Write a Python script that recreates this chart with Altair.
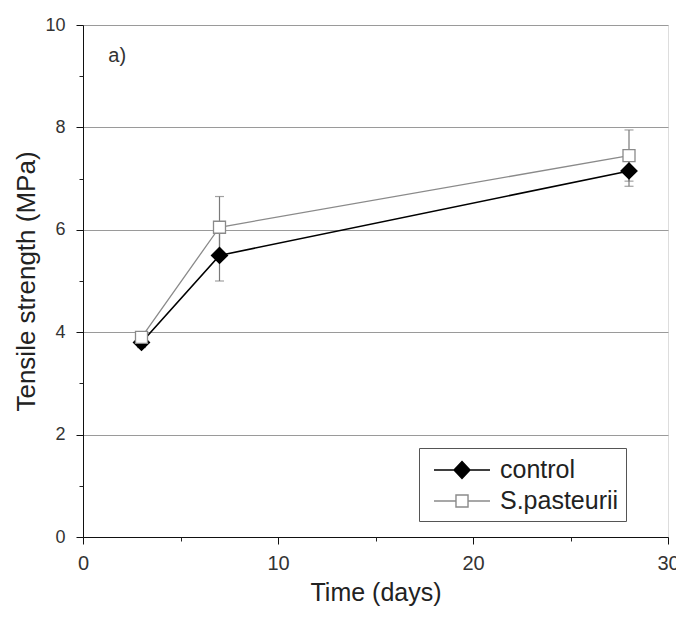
import altair as alt
import pandas as pd

days = [3, 7, 28]
series_names = ["control", "S.pasteurii"]
control = [3.8, 5.5, 7.15]
control_err = [0.1, 0.5, 0.3]
spast = [3.9, 6.05, 7.45]
spast_err = [0.1, 0.6, 0.5]

x_major = [0, 10, 20, 30]
x_minor = [5, 15, 25]
y_major = [0, 2, 4, 6, 8, 10]
y_minor = [1, 3, 5, 7, 9]

rows = []
for name, vals, errs in [("control", control, control_err), ("S.pasteurii", spast, spast_err)]:
    for d, v, e in zip(days, vals, errs):
        rows.append({"series": name, "day": d, "value": v, "lo": v - e, "hi": v + e})
df = pd.DataFrame(rows)

FONT = "Liberation Sans"
xs = alt.Scale(domain=[0, 30], nice=False, zero=False)
ys = alt.Scale(domain=[0, 10], nice=False)

x_axis = alt.Axis(values=x_major, grid=False, title="Time (days)", orient="bottom",
                  labelFontSize=20, titleFontSize=25, titleFontWeight="normal",
                  labelFont=FONT, titleFont=FONT,
                  domainColor="#111", tickColor="#111", labelColor="#333", titleColor="#222",
                  tickSize=7, labelPadding=9, titlePadding=7, labelFlush=False)
y_axis = alt.Axis(values=y_major, grid=True, gridColor="#9a9a9a", gridWidth=1.2, orient="left",
                  title="Tensile strength (MPa)", labelFontSize=18, titleFontSize=26,
                  titleFontWeight="normal", labelFont=FONT, titleFont=FONT,
                  domainColor="#111", tickColor="#111", labelColor="#333", titleColor="#222",
                  tickSize=7, labelPadding=11, titlePadding=5, labelFlush=False)
x_minor_axis = alt.Axis(values=x_minor, orient="bottom", grid=False, labels=False, domain=False,
                        title=None, tickSize=4, tickColor="#222")
y_minor_axis = alt.Axis(values=y_minor, orient="left", grid=False, labels=False, domain=False,
                        title=None, tickSize=4, tickColor="#222")

color_dom = series_names

lines = alt.Chart(df).mark_line().encode(
    x=alt.X("day:Q", scale=xs, axis=x_axis),
    y=alt.Y("value:Q", scale=ys, axis=y_axis),
    stroke=alt.Stroke("series:N", scale=alt.Scale(domain=color_dom, range=["#000000", "#8a8a8a"]), legend=None),
    strokeWidth=alt.StrokeWidth("series:N", scale=alt.Scale(domain=color_dom, range=[1.6, 1.3]), legend=None),
    detail="series:N",
)

err = alt.Chart(df).mark_rule(color="#7a7a7a", strokeWidth=1.2).encode(
    x=alt.X("day:Q", axis=None), y=alt.Y("lo:Q", axis=None), y2="hi:Q")
cap_hi = alt.Chart(df).mark_tick(color="#7a7a7a", orient="horizontal", size=9, thickness=1.2).encode(
    x=alt.X("day:Q", axis=None), y=alt.Y("hi:Q", axis=None))
cap_lo = alt.Chart(df).mark_tick(color="#7a7a7a", orient="horizontal", size=9, thickness=1.2).encode(
    x=alt.X("day:Q", axis=x_minor_axis), y=alt.Y("lo:Q", axis=y_minor_axis))

points = alt.Chart(df).mark_point(filled=False, opacity=1, strokeWidth=1.3).encode(
    x=alt.X("day:Q", axis=None), y=alt.Y("value:Q", axis=None),
    shape=alt.Shape("series:N", scale=alt.Scale(domain=color_dom, range=["diamond", "square"]), legend=None),
    fill=alt.Fill("series:N", scale=alt.Scale(domain=color_dom, range=["#000000", "#ffffff"]), legend=None),
    stroke=alt.Stroke("series:N", scale=alt.Scale(domain=color_dom, range=["#000000", "#8a8a8a"]), legend=None),
    size=alt.Size("series:N", scale=alt.Scale(domain=color_dom, range=[256, 144]), legend=None),
)

# legend symbol: line with marker, drawn wider than its nominal box
diamond_path = "M-2,0H-0.57M0.57,0H2M0,-0.6L0.57,0L0,0.6L-0.57,0Z"
square_path = "M-2,0H-0.43M0.43,0H2M-0.43,-0.43H0.43V0.43H-0.43Z"

legend = alt.Legend(
    orient="none", legendX=336, legendY=423, title=None,
    strokeColor="#555", fillColor="white", padding=7, rowPadding=3,
    labelFont=FONT, labelFontSize=25, labelColor="#222", labelOffset=23,
    symbolSize=784, symbolStrokeWidth=1.4, symbolOpacity=1, symbolOffset=21,
)

legend_layer = alt.Chart(df).mark_point(filled=False, opacity=1, strokeWidth=1.4).encode(
    x=alt.X("day:Q", axis=None), y=alt.Y("value:Q", axis=None),
    shape=alt.Shape("series:N", scale=alt.Scale(domain=color_dom, range=[diamond_path, square_path]), legend=legend),
    fill=alt.Fill("series:N", scale=alt.Scale(domain=color_dom, range=["#000000", "#ffffff"]), legend=legend),
    stroke=alt.Stroke("series:N", scale=alt.Scale(domain=color_dom, range=["#000000", "#8a8a8a"]), legend=legend),
).transform_filter("false")

label_df = pd.DataFrame({"day": [1.3], "value": [9.4], "txt": ["a)"]})
label = alt.Chart(label_df).mark_text(font=FONT, fontSize=20, color="#333", align="left").encode(
    x=alt.X("day:Q", axis=None), y=alt.Y("value:Q", axis=None), text="txt:N")

chart = alt.layer(lines, err, cap_hi, cap_lo, points, label, legend_layer).resolve_scale(
    stroke="independent", shape="independent", fill="independent"
).resolve_axis(x="independent", y="independent").properties(
    width=585, height=512,
    autosize=alt.AutoSizeParams(type="none"),
    padding={"left": 75, "top": 17, "right": 8, "bottom": 74},
).configure_view(stroke="#666", strokeWidth=1.5).configure(background="white")

chart.save("out.html", embed_options={"renderer": "svg", "actions": False})
